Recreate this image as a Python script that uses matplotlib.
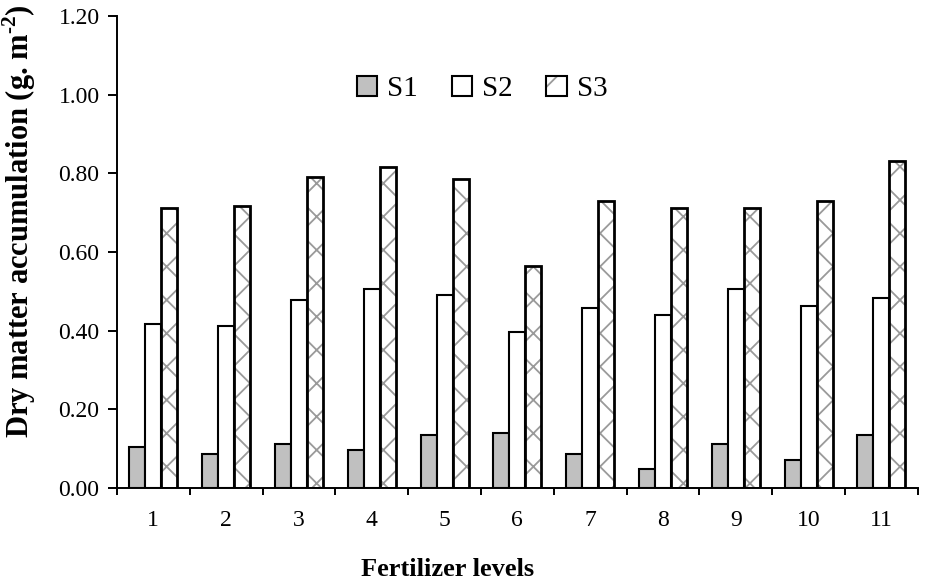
import matplotlib
matplotlib.use("Agg")
import matplotlib.pyplot as plt
import numpy as np
from matplotlib.patches import Patch

plt.rcParams['font.family'] = ['Liberation Serif', 'DejaVu Serif']
plt.rcParams['mathtext.fontset'] = 'custom'
plt.rcParams['mathtext.rm'] = 'Liberation Serif'
plt.rcParams['mathtext.bf'] = 'Liberation Serif:bold'
plt.rcParams['hatch.linewidth'] = 1.3

levels = ['1', '2', '3', '4', '5', '6', '7', '8', '9', '10', '11']
s1 = [0.103, 0.087, 0.113, 0.097, 0.135, 0.140, 0.087, 0.048, 0.113, 0.070, 0.135]
s2 = [0.418, 0.413, 0.478, 0.505, 0.490, 0.397, 0.457, 0.440, 0.505, 0.462, 0.483]
s3 = [0.712, 0.718, 0.790, 0.815, 0.785, 0.565, 0.730, 0.713, 0.713, 0.730, 0.832]
series_names = ['S1', 'S2', 'S3']

fig = plt.figure(figsize=(9.28, 5.82), dpi=100)
ax = fig.add_axes([0.126, 0.1615, 0.863, 0.811])

x = np.arange(1, len(levels) + 1)
w = 0.22
hatch_grey = '#9a9a9a'
ax.bar(x - w, s1, w, color='#c0c0c0', edgecolor='black', linewidth=1.5)
ax.bar(x, s2, w, color='white', edgecolor='black', linewidth=1.5)
ax.bar(x + w, s3, w, color='white', edgecolor=hatch_grey, linewidth=0, hatch='x')
ax.bar(x + w, s3, w, fill=False, edgecolor='black', linewidth=2)

ax.set_xlim(0.5, 11.5)
ax.set_ylim(0, 1.2)
yt = np.arange(0, 1.21, 0.2)
ax.set_yticks(yt)
ax.set_yticklabels([f'{v:.2f}' for v in yt])
ax.set_xticks(x)
ax.set_xticklabels(levels)
ax.set_xticks(np.arange(0.5, 11.6, 1), minor=True)
ax.tick_params(axis='x', which='major', length=0, pad=16, labelsize=17)
ax.tick_params(axis='x', which='minor', length=5, width=1.4, direction='out')
ax.tick_params(axis='y', length=6.5, width=1.4, direction='out', labelsize=17, pad=6)
for s in ['top', 'right']:
    ax.spines[s].set_visible(False)
for s in ['left', 'bottom']:
    ax.spines[s].set_linewidth(1.4)

ax.set_ylabel('Dry matter accumulation (g. m$^{\\mathbf{\u20102}}$)', fontsize=22, fontweight='bold')
ax.yaxis.set_label_coords(-0.122, 0.565)
ax.yaxis.label.set_verticalalignment('center')
ax.set_xlabel('Fertilizer levels', fontsize=19, fontweight='bold')
ax.xaxis.set_label_coords(0.413, -0.172)
ax.xaxis.label.set_verticalalignment('center')

h3 = (Patch(facecolor='white', edgecolor=hatch_grey, hatch='/', linewidth=0),
      Patch(fill=False, edgecolor='black', linewidth=1.5))
handles = [Patch(facecolor='#c0c0c0', edgecolor='black', linewidth=1.5),
           Patch(facecolor='white', edgecolor='black', linewidth=1.5),
           h3]
leg = ax.legend(handles, series_names, loc='center', bbox_to_anchor=(0.456, 0.845),
                ncol=3, frameon=False, fontsize=21, handlelength=0.7, handleheight=0.7,
                handletextpad=0.35, columnspacing=1.15, borderpad=0)

fig.savefig('out.png', dpi=100)
